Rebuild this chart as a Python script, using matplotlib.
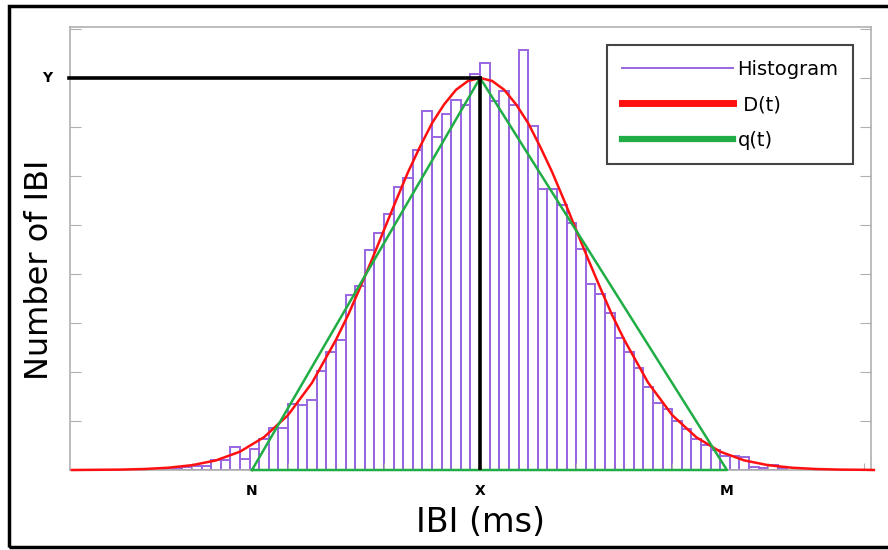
import matplotlib.pyplot as plt
import numpy as np
from matplotlib.lines import Line2D
from matplotlib.patches import Rectangle

# histogram: left bin edges (ms) and counts, bin width 10 ms
bin_left = np.arange(470, 1111, 10)
counts = [1, 2, 3, 4, 4, 10, 10, 23, 11, 21, 32, 43, 43, 67, 66, 71, 101, 120, 133,
          179, 188, 224, 242, 261, 289, 298, 327, 366, 340, 363, 378, 372, 404,
          415, 376, 387, 372, 429, 351, 287, 287, 270, 252, 225, 190, 180, 160,
          135, 120, 104, 85, 68, 62, 50, 42, 32, 26, 20, 14, 14, 13, 3, 2, 5, 2]

# D(t)
d_x = [375, 400, 425, 450, 475, 500, 525, 550, 575, 600, 625, 650, 662.5, 675,
       687.5, 700, 712.5, 725, 737.5, 750, 762.5, 775, 787.5, 800, 812.5, 825,
       837.5, 850, 862.5, 875, 887.5, 900, 912.5, 925, 937.5, 950, 975, 1000,
       1025, 1050, 1075, 1100, 1125, 1150, 1175, 1200, 1210]
d_y = [0, 0.2, 0.4, 1.0, 2.3, 4.9, 9.8, 18.7, 33.5, 56, 89, 133, 158, 186, 215,
       245, 275, 304, 330, 354, 373, 388, 397, 400, 397, 388, 373, 354, 330,
       304, 275, 245, 215, 186, 158, 133, 89, 56, 33.5, 18.7, 9.8, 4.9, 2.3,
       1.0, 0.4, 0.2, 0]

# q(t) triangle
N, X, M = 562.5, 800, 1057
Y = 400
q_x = [N, X, M, N]
q_y = [0, Y, 0, 0]

purple = "#9966e0"
red = "#ff1010"
green = "#20ad45"
grey = "#b0b0b0"

fig = plt.figure(figsize=(8.88, 5.5), dpi=100)
ax = fig.add_axes([70 / 888, 80 / 550, 801 / 888, 443 / 550])

ax.bar(bin_left, counts, width=10, align="edge", fill=False, edgecolor=purple,
       linewidth=1.4, zorder=1)
ax.plot(d_x, d_y, color=red, linewidth=1.8, zorder=3, clip_on=False)
ax.plot(q_x, q_y, color=green, linewidth=1.8, zorder=4, clip_on=False)

# guide lines to the peak
ax.plot([372, X], [Y, Y], color="black", linewidth=2.6, zorder=5, clip_on=False)
ax.plot([X, X], [0, Y], color="black", linewidth=2.6, zorder=5)

ax.set_xlim(373, 1207)
ax.set_ylim(0, 452)

for side in ["left", "right", "top", "bottom"]:
    ax.spines[side].set_color(grey)
    ax.spines[side].set_linewidth(1.2)

ax.set_xticks(np.arange(500, 1201, 100))
ax.set_xticklabels([])
ax.tick_params(axis="x", which="major", direction="in", length=5, color=grey)
ax.set_yticks(np.arange(0, 451, 50))
ax.set_yticklabels([])
ax.tick_params(axis="y", which="major", direction="in", length=8, color=grey,
               left=True, right=True)

# letter labels N, X, M under the axis and Y beside it
for pos, name in zip([N, X, M], ["N", "X", "M"]):
    ax.annotate(name, xy=(pos, 0), xycoords=("data", "axes fraction"),
                xytext=(0, -10), textcoords="offset points", ha="center",
                va="top", fontsize=10, fontweight="bold")
ax.annotate("Y", xy=(0, Y), xycoords=("axes fraction", "data"), xytext=(-13, 0),
            textcoords="offset points", ha="right", va="center", fontsize=10,
            fontweight="bold")

fig.text(480 / 888, 1 - 522 / 550, "IBI (ms)", fontsize=24, ha="center", va="center")
fig.text(40 / 888, 1 - 270 / 550, "Number of IBI", fontsize=23, ha="center",
         va="center", rotation=90)

handles = [Line2D([], [], color=purple, linewidth=1.4),
           Line2D([], [], color=red, linewidth=5),
           Line2D([], [], color=green, linewidth=4.5)]
leg = ax.legend(handles, ["Histogram", " D(t)", "q(t)"], loc="upper right",
                bbox_to_anchor=(0.9775, 0.959), borderaxespad=0, fontsize=14,
                handlelength=5.7, handletextpad=0.25, labelspacing=0.85,
                borderpad=0.75, fancybox=False, framealpha=1)
leg.get_frame().set_edgecolor("#444444")
leg.get_frame().set_linewidth(1.5)

# outer frame of the picture
fig.add_artist(Rectangle((9 / 888, 3 / 550), 2, 541 / 550, transform=fig.transFigure,
                         fill=False, edgecolor="black", linewidth=2.5))

fig.savefig("out.png", dpi=100)
